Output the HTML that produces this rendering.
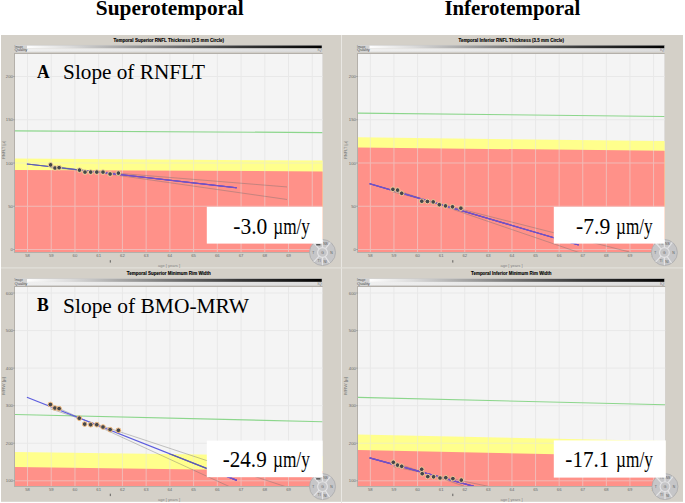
<!DOCTYPE html>
<html><head><meta charset="utf-8"><style>html,body{margin:0;padding:0;background:#fff;overflow:hidden}</style></head>
<body>
<svg width="685" height="503" viewBox="0 0 685 503" style="display:block">
<defs>
<linearGradient id="qg" x1="0" x2="1" y1="0" y2="0"><stop offset="0" stop-color="#ffffff"/><stop offset="0.04" stop-color="#ffffff"/><stop offset="0.18" stop-color="#dcdcdc"/><stop offset="0.34" stop-color="#a8a8a8"/><stop offset="0.54" stop-color="#6c6c6c"/><stop offset="0.73" stop-color="#383838"/><stop offset="0.93" stop-color="#101010"/><stop offset="1" stop-color="#000000"/></linearGradient>
<linearGradient id="qg2" x1="0" x2="1" y1="0" y2="0"><stop offset="0" stop-color="#f0f0f0"/><stop offset="1" stop-color="#dcdcdc"/></linearGradient>
</defs>
<rect width="685" height="503" fill="#fff"/>
<text x="169.75" y="14.6" font-family="Liberation Serif" font-size="21.8" font-weight="bold" fill="#000" text-anchor="middle" textLength="147.8" lengthAdjust="spacingAndGlyphs" >Superotemporal</text>
<text x="512.35" y="14.6" font-family="Liberation Serif" font-size="21.8" font-weight="bold" fill="#000" text-anchor="middle" textLength="135.9" lengthAdjust="spacingAndGlyphs" >Inferotemporal</text>
<rect x="1" y="35" width="682" height="466.8" fill="#d4d0c8"/>
<line x1="341.5" y1="35" x2="341.5" y2="503" stroke="#e9e7e3" stroke-width="1" />
<line x1="1" y1="267.8" x2="683" y2="267.8" stroke="#e2e0da" stroke-width="1.2" />
<g><clipPath id="clipTL"><rect x="15" y="54" width="307.6" height="198"/></clipPath>
<text x="168.8" y="41.6" font-family="Liberation Sans" font-size="5" font-weight="bold" fill="#000" text-anchor="middle" textLength="110.5" lengthAdjust="spacingAndGlyphs" stroke="#000" stroke-width="0.12">Temporal Superior RNFL Thickness (3.5 mm Circle)</text>
<rect x="14.5" y="45.2" width="307.5" height="3.2" fill="url(#qg)"/>
<rect x="14.5" y="48.4" width="307.5" height="3.6" fill="url(#qg2)"/>
<rect x="14.5" y="45.2" width="307.5" height="6.8" fill="none" stroke="#c8c8c8" stroke-width="0.5"/>
<rect x="14.5" y="45.2" width="12.5" height="6.8" fill="#d2d2d2"/>
<text x="14.6" y="47.9" font-family="Liberation Sans" font-size="3.8" font-weight="normal" fill="#505050" text-anchor="start" textLength="8.2" lengthAdjust="spacingAndGlyphs" >Image</text>
<text x="14.6" y="51.4" font-family="Liberation Sans" font-size="3.8" font-weight="normal" fill="#505050" text-anchor="start" textLength="12.8" lengthAdjust="spacingAndGlyphs" >Quality</text>
<text x="321.6" y="51.3" font-family="Liberation Sans" font-size="3.6" font-weight="normal" fill="#707070" text-anchor="end" textLength="4.2" lengthAdjust="spacingAndGlyphs" >IQ</text>
<rect x="14" y="53" width="308.6" height="200" fill="#b4b0aa"/>
<rect x="15" y="54" width="307.6" height="198" fill="#f4f4f4"/>
<line x1="27.5" y1="54" x2="27.5" y2="252" stroke="#e8e8e8" stroke-width="1" />
<line x1="51.23" y1="54" x2="51.23" y2="252" stroke="#e8e8e8" stroke-width="1" />
<line x1="74.96" y1="54" x2="74.96" y2="252" stroke="#e8e8e8" stroke-width="1" />
<line x1="98.69" y1="54" x2="98.69" y2="252" stroke="#e8e8e8" stroke-width="1" />
<line x1="122.42" y1="54" x2="122.42" y2="252" stroke="#e8e8e8" stroke-width="1" />
<line x1="146.15" y1="54" x2="146.15" y2="252" stroke="#e8e8e8" stroke-width="1" />
<line x1="169.88" y1="54" x2="169.88" y2="252" stroke="#e8e8e8" stroke-width="1" />
<line x1="193.61" y1="54" x2="193.61" y2="252" stroke="#e8e8e8" stroke-width="1" />
<line x1="217.34" y1="54" x2="217.34" y2="252" stroke="#e8e8e8" stroke-width="1" />
<line x1="241.07" y1="54" x2="241.07" y2="252" stroke="#e8e8e8" stroke-width="1" />
<line x1="264.8" y1="54" x2="264.8" y2="252" stroke="#e8e8e8" stroke-width="1" />
<line x1="288.53" y1="54" x2="288.53" y2="252" stroke="#e8e8e8" stroke-width="1" />
<line x1="312.26" y1="54" x2="312.26" y2="252" stroke="#e8e8e8" stroke-width="1" />
<line x1="15" y1="249.5" x2="322.6" y2="249.5" stroke="#e8e8e8" stroke-width="1" />
<line x1="15" y1="206.25" x2="322.6" y2="206.25" stroke="#e8e8e8" stroke-width="1" />
<line x1="15" y1="163" x2="322.6" y2="163" stroke="#e8e8e8" stroke-width="1" />
<line x1="15" y1="119.75" x2="322.6" y2="119.75" stroke="#e8e8e8" stroke-width="1" />
<line x1="15" y1="76.5" x2="322.6" y2="76.5" stroke="#e8e8e8" stroke-width="1" />
<polygon points="15,158.5 322.6,160.6 322.6,252 15,252" fill="#ffff8c"/>
<polygon points="15,170 322.6,171.4 322.6,252 15,252" fill="#ff9189"/>
<clipPath id="bclipTL"><polygon points="15,158.5 322.6,160.6 322.6,252 15,252"/></clipPath>
<clipPath id="rclipTL"><polygon points="15,170 322.6,171.4 322.6,252 15,252"/></clipPath>
<g clip-path="url(#bclipTL)" opacity="0.5"><line x1="27.5" y1="54" x2="27.5" y2="252" stroke="#e4e4e4" stroke-width="1" /><line x1="51.23" y1="54" x2="51.23" y2="252" stroke="#e4e4e4" stroke-width="1" /><line x1="74.96" y1="54" x2="74.96" y2="252" stroke="#e4e4e4" stroke-width="1" /><line x1="98.69" y1="54" x2="98.69" y2="252" stroke="#e4e4e4" stroke-width="1" /><line x1="122.42" y1="54" x2="122.42" y2="252" stroke="#e4e4e4" stroke-width="1" /><line x1="146.15" y1="54" x2="146.15" y2="252" stroke="#e4e4e4" stroke-width="1" /><line x1="169.88" y1="54" x2="169.88" y2="252" stroke="#e4e4e4" stroke-width="1" /><line x1="193.61" y1="54" x2="193.61" y2="252" stroke="#e4e4e4" stroke-width="1" /><line x1="217.34" y1="54" x2="217.34" y2="252" stroke="#e4e4e4" stroke-width="1" /><line x1="241.07" y1="54" x2="241.07" y2="252" stroke="#e4e4e4" stroke-width="1" /><line x1="264.8" y1="54" x2="264.8" y2="252" stroke="#e4e4e4" stroke-width="1" /><line x1="288.53" y1="54" x2="288.53" y2="252" stroke="#e4e4e4" stroke-width="1" /><line x1="312.26" y1="54" x2="312.26" y2="252" stroke="#e4e4e4" stroke-width="1" /><line x1="15" y1="249.5" x2="322.6" y2="249.5" stroke="#e4e4e4" stroke-width="1" /><line x1="15" y1="206.25" x2="322.6" y2="206.25" stroke="#e4e4e4" stroke-width="1" /><line x1="15" y1="163" x2="322.6" y2="163" stroke="#e4e4e4" stroke-width="1" /><line x1="15" y1="119.75" x2="322.6" y2="119.75" stroke="#e4e4e4" stroke-width="1" /><line x1="15" y1="76.5" x2="322.6" y2="76.5" stroke="#e4e4e4" stroke-width="1" /></g>
<line x1="13" y1="249.5" x2="15" y2="249.5" stroke="#909090" stroke-width="0.6" />
<text x="12.8" y="251" font-family="Liberation Sans" font-size="4.2" font-weight="normal" fill="#6a6a6a" text-anchor="end" >0</text>
<line x1="13" y1="206.25" x2="15" y2="206.25" stroke="#909090" stroke-width="0.6" />
<text x="12.8" y="207.75" font-family="Liberation Sans" font-size="4.2" font-weight="normal" fill="#6a6a6a" text-anchor="end" >50</text>
<line x1="13" y1="163" x2="15" y2="163" stroke="#909090" stroke-width="0.6" />
<text x="12.8" y="164.5" font-family="Liberation Sans" font-size="4.2" font-weight="normal" fill="#6a6a6a" text-anchor="end" >100</text>
<line x1="13" y1="119.75" x2="15" y2="119.75" stroke="#909090" stroke-width="0.6" />
<text x="12.8" y="121.25" font-family="Liberation Sans" font-size="4.2" font-weight="normal" fill="#6a6a6a" text-anchor="end" >150</text>
<line x1="13" y1="76.5" x2="15" y2="76.5" stroke="#909090" stroke-width="0.6" />
<text x="12.8" y="78" font-family="Liberation Sans" font-size="4.2" font-weight="normal" fill="#6a6a6a" text-anchor="end" >200</text>
<text x="27.5" y="257.4" font-family="Liberation Sans" font-size="4.2" font-weight="normal" fill="#6a6a6a" text-anchor="middle" >58</text>
<text x="51.23" y="257.4" font-family="Liberation Sans" font-size="4.2" font-weight="normal" fill="#6a6a6a" text-anchor="middle" >59</text>
<text x="74.96" y="257.4" font-family="Liberation Sans" font-size="4.2" font-weight="normal" fill="#6a6a6a" text-anchor="middle" >60</text>
<text x="98.69" y="257.4" font-family="Liberation Sans" font-size="4.2" font-weight="normal" fill="#6a6a6a" text-anchor="middle" >61</text>
<text x="122.42" y="257.4" font-family="Liberation Sans" font-size="4.2" font-weight="normal" fill="#6a6a6a" text-anchor="middle" >62</text>
<text x="146.15" y="257.4" font-family="Liberation Sans" font-size="4.2" font-weight="normal" fill="#6a6a6a" text-anchor="middle" >63</text>
<text x="169.88" y="257.4" font-family="Liberation Sans" font-size="4.2" font-weight="normal" fill="#6a6a6a" text-anchor="middle" >64</text>
<text x="193.61" y="257.4" font-family="Liberation Sans" font-size="4.2" font-weight="normal" fill="#6a6a6a" text-anchor="middle" >65</text>
<text x="217.34" y="257.4" font-family="Liberation Sans" font-size="4.2" font-weight="normal" fill="#6a6a6a" text-anchor="middle" >66</text>
<text x="241.07" y="257.4" font-family="Liberation Sans" font-size="4.2" font-weight="normal" fill="#6a6a6a" text-anchor="middle" >67</text>
<text x="264.8" y="257.4" font-family="Liberation Sans" font-size="4.2" font-weight="normal" fill="#6a6a6a" text-anchor="middle" >68</text>
<text x="288.53" y="257.4" font-family="Liberation Sans" font-size="4.2" font-weight="normal" fill="#6a6a6a" text-anchor="middle" >69</text>
<text x="312.26" y="257.4" font-family="Liberation Sans" font-size="4.2" font-weight="normal" fill="#6a6a6a" text-anchor="middle" >70</text>
<text x="0" y="0" font-family="Liberation Sans" font-size="4.2" fill="#707070" text-anchor="middle" textLength="17.5" lengthAdjust="spacingAndGlyphs" transform="translate(4.6,150) rotate(-90)">RNFLT [µ]</text>
<text x="169" y="267.2" font-family="Liberation Sans" font-size="4" font-weight="normal" fill="#858585" text-anchor="middle" >age [ years ]</text>
<line x1="110.3" y1="260.2" x2="110.3" y2="262.6" stroke="#444" stroke-width="0.8" />
<g clip-path="url(#clipTL)"><line x1="15" y1="130.8" x2="322.6" y2="132.6" stroke="#8cd68c" stroke-width="1.15" /><line x1="50.6" y1="167.8" x2="287" y2="186.95" stroke="#707070" stroke-width="0.9" stroke-opacity="0.45"/><line x1="50.6" y1="165.68" x2="287" y2="199.48" stroke="#707070" stroke-width="0.9" stroke-opacity="0.45"/><line x1="26.9" y1="164" x2="236.7" y2="187.8" stroke="#5c5cde" stroke-width="1.2" /><g clip-path="url(#bclipTL)"><line x1="26.9" y1="164" x2="236.7" y2="187.8" stroke="#5e5ea8" stroke-width="1.15" /></g><g clip-path="url(#rclipTL)"><line x1="26.9" y1="164" x2="236.7" y2="187.8" stroke="#7a4cc8" stroke-width="1.15" /></g><circle cx="50.6" cy="164.9" r="2.35" fill="#44474c" stroke="#f3d49c" stroke-width="1.0"/><circle cx="55" cy="168" r="2.35" fill="#44474c" stroke="#f3d49c" stroke-width="1.0"/><circle cx="59.1" cy="167.7" r="2.35" fill="#44474c" stroke="#f3d49c" stroke-width="1.0"/><circle cx="79.5" cy="170.1" r="2.35" fill="#44474c" stroke="#f3d49c" stroke-width="1.0"/><circle cx="85" cy="172.1" r="2.35" fill="#44474c" stroke="#f3d49c" stroke-width="1.0"/><circle cx="90.7" cy="172.1" r="2.35" fill="#44474c" stroke="#f3d49c" stroke-width="1.0"/><circle cx="96.8" cy="172.1" r="2.35" fill="#44474c" stroke="#f3d49c" stroke-width="1.0"/><circle cx="103" cy="172.1" r="2.35" fill="#44474c" stroke="#f3d49c" stroke-width="1.0"/><circle cx="110.1" cy="174" r="2.35" fill="#44474c" stroke="#f3d49c" stroke-width="1.0"/><circle cx="118.4" cy="173.1" r="2.35" fill="#44474c" stroke="#f3d49c" stroke-width="1.0"/></g>
<circle cx="322.5" cy="252.5" r="13" fill="#c6c6c8" stroke="#a6a6a8" stroke-width="0.7"/>
<line x1="325.52" y1="248.64" x2="330.32" y2="242.49" stroke="#e4e4e6" stroke-width="1.2" />
<line x1="319.16" y1="248.92" x2="313.84" y2="243.21" stroke="#e4e4e6" stroke-width="1.2" />
<line x1="325.24" y1="256.56" x2="329.6" y2="263.03" stroke="#e4e4e6" stroke-width="1.2" />
<line x1="319.16" y1="256.08" x2="313.84" y2="261.79" stroke="#e4e4e6" stroke-width="1.2" />
<line x1="322.5" y1="247.6" x2="322.5" y2="239.8" stroke="#e4e4e6" stroke-width="1.2" />
<line x1="322.5" y1="257.4" x2="322.5" y2="265.2" stroke="#e4e4e6" stroke-width="1.2" />
<circle cx="322.5" cy="252.5" r="4.9" fill="#c6c6c8" stroke="#e4e4e6" stroke-width="1.1"/>
<rect x="316.2" y="244.1" width="4.2" height="1.3" fill="#4a4a4a"/>
<text x="322.5" y="253.7" font-family="Liberation Sans" font-size="3.4" font-weight="normal" fill="#5a5a5a" text-anchor="middle" >G</text>
<text x="313.3" y="253.7" font-family="Liberation Sans" font-size="3.4" font-weight="normal" fill="#5a5a5a" text-anchor="middle" >T</text>
<text x="331.5" y="253.7" font-family="Liberation Sans" font-size="3.4" font-weight="normal" fill="#5a5a5a" text-anchor="middle" >N</text>
<text x="325.5" y="244.9" font-family="Liberation Sans" font-size="3.4" font-weight="normal" fill="#5a5a5a" text-anchor="middle" >NS</text>
<text x="325.1" y="262.5" font-family="Liberation Sans" font-size="3.4" font-weight="normal" fill="#5a5a5a" text-anchor="middle" >NI</text>
<text x="319.1" y="262.3" font-family="Liberation Sans" font-size="3.4" font-weight="normal" fill="#5a5a5a" text-anchor="middle" >TI</text>
<rect x="206.8" y="206.8" width="115.8" height="36.8" fill="#fff"/>
<text x="233.25" y="233.6" font-family="Liberation Serif" font-size="22.6" font-weight="normal" fill="#000" text-anchor="start" textLength="34.07" lengthAdjust="spacingAndGlyphs" >-3.0</text>
<text x="273.28" y="233.6" font-family="Liberation Serif" font-size="22.6" font-weight="normal" fill="#000" text-anchor="start" textLength="36.63" lengthAdjust="spacingAndGlyphs" >µm/y</text>
<text x="37" y="78.3" font-family="Liberation Serif" font-size="18.5" font-weight="bold" fill="#000" text-anchor="start" textLength="12.6" lengthAdjust="spacingAndGlyphs" >A</text>
<text x="63.1" y="79" font-family="Liberation Serif" font-size="21.5" font-weight="normal" fill="#000" text-anchor="start" textLength="141.9" lengthAdjust="spacingAndGlyphs" >Slope of RNFLT</text></g>
<g><clipPath id="clipTR"><rect x="358" y="54" width="306.6" height="198"/></clipPath>
<text x="511.3" y="41.6" font-family="Liberation Sans" font-size="5" font-weight="bold" fill="#000" text-anchor="middle" textLength="105.5" lengthAdjust="spacingAndGlyphs" stroke="#000" stroke-width="0.12">Temporal Inferior RNFL Thickness (3.5 mm Circle)</text>
<rect x="357" y="45.2" width="307.5" height="3.2" fill="url(#qg)"/>
<rect x="357" y="48.4" width="307.5" height="3.6" fill="url(#qg2)"/>
<rect x="357" y="45.2" width="307.5" height="6.8" fill="none" stroke="#c8c8c8" stroke-width="0.5"/>
<rect x="357" y="45.2" width="12.5" height="6.8" fill="#d2d2d2"/>
<text x="357.1" y="47.9" font-family="Liberation Sans" font-size="3.8" font-weight="normal" fill="#505050" text-anchor="start" textLength="8.2" lengthAdjust="spacingAndGlyphs" >Image</text>
<text x="357.1" y="51.4" font-family="Liberation Sans" font-size="3.8" font-weight="normal" fill="#505050" text-anchor="start" textLength="12.8" lengthAdjust="spacingAndGlyphs" >Quality</text>
<text x="664.1" y="51.3" font-family="Liberation Sans" font-size="3.6" font-weight="normal" fill="#707070" text-anchor="end" textLength="4.2" lengthAdjust="spacingAndGlyphs" >IQ</text>
<rect x="357" y="53" width="307.6" height="200" fill="#b4b0aa"/>
<rect x="358" y="54" width="306.6" height="198" fill="#f4f4f4"/>
<line x1="370.35" y1="54" x2="370.35" y2="252" stroke="#e8e8e8" stroke-width="1" />
<line x1="393.95" y1="54" x2="393.95" y2="252" stroke="#e8e8e8" stroke-width="1" />
<line x1="417.55" y1="54" x2="417.55" y2="252" stroke="#e8e8e8" stroke-width="1" />
<line x1="441.15" y1="54" x2="441.15" y2="252" stroke="#e8e8e8" stroke-width="1" />
<line x1="464.75" y1="54" x2="464.75" y2="252" stroke="#e8e8e8" stroke-width="1" />
<line x1="488.35" y1="54" x2="488.35" y2="252" stroke="#e8e8e8" stroke-width="1" />
<line x1="511.95" y1="54" x2="511.95" y2="252" stroke="#e8e8e8" stroke-width="1" />
<line x1="535.55" y1="54" x2="535.55" y2="252" stroke="#e8e8e8" stroke-width="1" />
<line x1="559.15" y1="54" x2="559.15" y2="252" stroke="#e8e8e8" stroke-width="1" />
<line x1="582.75" y1="54" x2="582.75" y2="252" stroke="#e8e8e8" stroke-width="1" />
<line x1="606.35" y1="54" x2="606.35" y2="252" stroke="#e8e8e8" stroke-width="1" />
<line x1="629.95" y1="54" x2="629.95" y2="252" stroke="#e8e8e8" stroke-width="1" />
<line x1="653.55" y1="54" x2="653.55" y2="252" stroke="#e8e8e8" stroke-width="1" />
<line x1="358" y1="249.5" x2="664.6" y2="249.5" stroke="#e8e8e8" stroke-width="1" />
<line x1="358" y1="206.25" x2="664.6" y2="206.25" stroke="#e8e8e8" stroke-width="1" />
<line x1="358" y1="163" x2="664.6" y2="163" stroke="#e8e8e8" stroke-width="1" />
<line x1="358" y1="119.75" x2="664.6" y2="119.75" stroke="#e8e8e8" stroke-width="1" />
<line x1="358" y1="76.5" x2="664.6" y2="76.5" stroke="#e8e8e8" stroke-width="1" />
<polygon points="358,137.35 664.6,141 664.6,252 358,252" fill="#ffff8c"/>
<polygon points="358,147.5 664.6,150.8 664.6,252 358,252" fill="#ff9189"/>
<clipPath id="bclipTR"><polygon points="358,137.35 664.6,141 664.6,252 358,252"/></clipPath>
<clipPath id="rclipTR"><polygon points="358,147.5 664.6,150.8 664.6,252 358,252"/></clipPath>
<g clip-path="url(#bclipTR)" opacity="0.5"><line x1="370.35" y1="54" x2="370.35" y2="252" stroke="#e4e4e4" stroke-width="1" /><line x1="393.95" y1="54" x2="393.95" y2="252" stroke="#e4e4e4" stroke-width="1" /><line x1="417.55" y1="54" x2="417.55" y2="252" stroke="#e4e4e4" stroke-width="1" /><line x1="441.15" y1="54" x2="441.15" y2="252" stroke="#e4e4e4" stroke-width="1" /><line x1="464.75" y1="54" x2="464.75" y2="252" stroke="#e4e4e4" stroke-width="1" /><line x1="488.35" y1="54" x2="488.35" y2="252" stroke="#e4e4e4" stroke-width="1" /><line x1="511.95" y1="54" x2="511.95" y2="252" stroke="#e4e4e4" stroke-width="1" /><line x1="535.55" y1="54" x2="535.55" y2="252" stroke="#e4e4e4" stroke-width="1" /><line x1="559.15" y1="54" x2="559.15" y2="252" stroke="#e4e4e4" stroke-width="1" /><line x1="582.75" y1="54" x2="582.75" y2="252" stroke="#e4e4e4" stroke-width="1" /><line x1="606.35" y1="54" x2="606.35" y2="252" stroke="#e4e4e4" stroke-width="1" /><line x1="629.95" y1="54" x2="629.95" y2="252" stroke="#e4e4e4" stroke-width="1" /><line x1="653.55" y1="54" x2="653.55" y2="252" stroke="#e4e4e4" stroke-width="1" /><line x1="358" y1="249.5" x2="664.6" y2="249.5" stroke="#e4e4e4" stroke-width="1" /><line x1="358" y1="206.25" x2="664.6" y2="206.25" stroke="#e4e4e4" stroke-width="1" /><line x1="358" y1="163" x2="664.6" y2="163" stroke="#e4e4e4" stroke-width="1" /><line x1="358" y1="119.75" x2="664.6" y2="119.75" stroke="#e4e4e4" stroke-width="1" /><line x1="358" y1="76.5" x2="664.6" y2="76.5" stroke="#e4e4e4" stroke-width="1" /></g>
<line x1="356" y1="249.5" x2="358" y2="249.5" stroke="#909090" stroke-width="0.6" />
<text x="355.8" y="251" font-family="Liberation Sans" font-size="4.2" font-weight="normal" fill="#6a6a6a" text-anchor="end" >0</text>
<line x1="356" y1="206.25" x2="358" y2="206.25" stroke="#909090" stroke-width="0.6" />
<text x="355.8" y="207.75" font-family="Liberation Sans" font-size="4.2" font-weight="normal" fill="#6a6a6a" text-anchor="end" >50</text>
<line x1="356" y1="163" x2="358" y2="163" stroke="#909090" stroke-width="0.6" />
<text x="355.8" y="164.5" font-family="Liberation Sans" font-size="4.2" font-weight="normal" fill="#6a6a6a" text-anchor="end" >100</text>
<line x1="356" y1="119.75" x2="358" y2="119.75" stroke="#909090" stroke-width="0.6" />
<text x="355.8" y="121.25" font-family="Liberation Sans" font-size="4.2" font-weight="normal" fill="#6a6a6a" text-anchor="end" >150</text>
<line x1="356" y1="76.5" x2="358" y2="76.5" stroke="#909090" stroke-width="0.6" />
<text x="355.8" y="78" font-family="Liberation Sans" font-size="4.2" font-weight="normal" fill="#6a6a6a" text-anchor="end" >200</text>
<text x="370.35" y="257.4" font-family="Liberation Sans" font-size="4.2" font-weight="normal" fill="#6a6a6a" text-anchor="middle" >58</text>
<text x="393.95" y="257.4" font-family="Liberation Sans" font-size="4.2" font-weight="normal" fill="#6a6a6a" text-anchor="middle" >59</text>
<text x="417.55" y="257.4" font-family="Liberation Sans" font-size="4.2" font-weight="normal" fill="#6a6a6a" text-anchor="middle" >60</text>
<text x="441.15" y="257.4" font-family="Liberation Sans" font-size="4.2" font-weight="normal" fill="#6a6a6a" text-anchor="middle" >61</text>
<text x="464.75" y="257.4" font-family="Liberation Sans" font-size="4.2" font-weight="normal" fill="#6a6a6a" text-anchor="middle" >62</text>
<text x="488.35" y="257.4" font-family="Liberation Sans" font-size="4.2" font-weight="normal" fill="#6a6a6a" text-anchor="middle" >63</text>
<text x="511.95" y="257.4" font-family="Liberation Sans" font-size="4.2" font-weight="normal" fill="#6a6a6a" text-anchor="middle" >64</text>
<text x="535.55" y="257.4" font-family="Liberation Sans" font-size="4.2" font-weight="normal" fill="#6a6a6a" text-anchor="middle" >65</text>
<text x="559.15" y="257.4" font-family="Liberation Sans" font-size="4.2" font-weight="normal" fill="#6a6a6a" text-anchor="middle" >66</text>
<text x="582.75" y="257.4" font-family="Liberation Sans" font-size="4.2" font-weight="normal" fill="#6a6a6a" text-anchor="middle" >67</text>
<text x="606.35" y="257.4" font-family="Liberation Sans" font-size="4.2" font-weight="normal" fill="#6a6a6a" text-anchor="middle" >68</text>
<text x="629.95" y="257.4" font-family="Liberation Sans" font-size="4.2" font-weight="normal" fill="#6a6a6a" text-anchor="middle" >69</text>
<text x="653.55" y="257.4" font-family="Liberation Sans" font-size="4.2" font-weight="normal" fill="#6a6a6a" text-anchor="middle" >70</text>
<text x="0" y="0" font-family="Liberation Sans" font-size="4.2" fill="#707070" text-anchor="middle" textLength="17.5" lengthAdjust="spacingAndGlyphs" transform="translate(347.1,150) rotate(-90)">RNFLT [µ]</text>
<text x="511.5" y="267.2" font-family="Liberation Sans" font-size="4" font-weight="normal" fill="#858585" text-anchor="middle" >age [ years ]</text>
<line x1="452.8" y1="260.2" x2="452.8" y2="262.6" stroke="#444" stroke-width="0.8" />
<g clip-path="url(#clipTR)"><line x1="358" y1="113.1" x2="664.6" y2="116.5" stroke="#8cd68c" stroke-width="1.15" /><line x1="392.9" y1="191.88" x2="629.5" y2="251.97" stroke="#707070" stroke-width="0.9" stroke-opacity="0.45"/><line x1="392.9" y1="188.85" x2="629.5" y2="269.77" stroke="#707070" stroke-width="0.9" stroke-opacity="0.45"/><line x1="369.6" y1="183.7" x2="578.7" y2="245" stroke="#5c5cde" stroke-width="1.2" /><g clip-path="url(#bclipTR)"><line x1="369.6" y1="183.7" x2="578.7" y2="245" stroke="#5e5ea8" stroke-width="1.15" /></g><g clip-path="url(#rclipTR)"><line x1="369.6" y1="183.7" x2="578.7" y2="245" stroke="#7a4cc8" stroke-width="1.15" /></g><circle cx="392.9" cy="189.3" r="2.35" fill="#44474c" stroke="#f3c99a" stroke-width="1.0"/><circle cx="397.6" cy="190.1" r="2.35" fill="#44474c" stroke="#f3c99a" stroke-width="1.0"/><circle cx="401.7" cy="193.3" r="2.35" fill="#44474c" stroke="#f3c99a" stroke-width="1.0"/><circle cx="421.8" cy="201.2" r="2.35" fill="#44474c" stroke="#f3c99a" stroke-width="1.0"/><circle cx="427.4" cy="201.5" r="2.35" fill="#44474c" stroke="#f3c99a" stroke-width="1.0"/><circle cx="433.2" cy="201.9" r="2.35" fill="#44474c" stroke="#f3c99a" stroke-width="1.0"/><circle cx="439.3" cy="204.7" r="2.35" fill="#44474c" stroke="#f3c99a" stroke-width="1.0"/><circle cx="445.5" cy="205.9" r="2.35" fill="#44474c" stroke="#f3c99a" stroke-width="1.0"/><circle cx="452.5" cy="206.8" r="2.35" fill="#44474c" stroke="#f3c99a" stroke-width="1.0"/><circle cx="460.9" cy="208.2" r="2.35" fill="#44474c" stroke="#f3c99a" stroke-width="1.0"/></g>
<circle cx="664.4" cy="252.5" r="13" fill="#c6c6c8" stroke="#a6a6a8" stroke-width="0.7"/>
<line x1="667.42" y1="248.64" x2="672.22" y2="242.49" stroke="#e4e4e6" stroke-width="1.2" />
<line x1="661.06" y1="248.92" x2="655.74" y2="243.21" stroke="#e4e4e6" stroke-width="1.2" />
<line x1="667.14" y1="256.56" x2="671.5" y2="263.03" stroke="#e4e4e6" stroke-width="1.2" />
<line x1="661.06" y1="256.08" x2="655.74" y2="261.79" stroke="#e4e4e6" stroke-width="1.2" />
<line x1="664.4" y1="247.6" x2="664.4" y2="239.8" stroke="#e4e4e6" stroke-width="1.2" />
<line x1="664.4" y1="257.4" x2="664.4" y2="265.2" stroke="#e4e4e6" stroke-width="1.2" />
<circle cx="664.4" cy="252.5" r="4.9" fill="#c6c6c8" stroke="#e4e4e6" stroke-width="1.1"/>
<text x="661" y="245.1" font-family="Liberation Sans" font-size="3.4" font-weight="normal" fill="#777" text-anchor="middle" >TS</text>
<text x="664.4" y="253.7" font-family="Liberation Sans" font-size="3.4" font-weight="normal" fill="#5a5a5a" text-anchor="middle" >G</text>
<text x="655.2" y="253.7" font-family="Liberation Sans" font-size="3.4" font-weight="normal" fill="#5a5a5a" text-anchor="middle" >T</text>
<text x="673.4" y="253.7" font-family="Liberation Sans" font-size="3.4" font-weight="normal" fill="#5a5a5a" text-anchor="middle" >N</text>
<text x="667.4" y="244.9" font-family="Liberation Sans" font-size="3.4" font-weight="normal" fill="#5a5a5a" text-anchor="middle" >NS</text>
<text x="667" y="262.5" font-family="Liberation Sans" font-size="3.4" font-weight="normal" fill="#5a5a5a" text-anchor="middle" >NI</text>
<text x="661" y="262.3" font-family="Liberation Sans" font-size="3.4" font-weight="normal" fill="#5a5a5a" text-anchor="middle" >TI</text>
<rect x="553.8" y="206.8" width="110.8" height="36.8" fill="#fff"/>
<text x="576.04" y="233.5" font-family="Liberation Serif" font-size="22.6" font-weight="normal" fill="#000" text-anchor="start" textLength="34.18" lengthAdjust="spacingAndGlyphs" >-7.9</text>
<text x="616.09" y="233.5" font-family="Liberation Serif" font-size="22.6" font-weight="normal" fill="#000" text-anchor="start" textLength="36.53" lengthAdjust="spacingAndGlyphs" >µm/y</text></g>
<g><clipPath id="clipBL"><rect x="15" y="287" width="307.6" height="199"/></clipPath>
<text x="168.8" y="275.1" font-family="Liberation Sans" font-size="5" font-weight="bold" fill="#000" text-anchor="middle" textLength="84.1" lengthAdjust="spacingAndGlyphs" stroke="#000" stroke-width="0.12">Temporal Superior Minimum Rim Width</text>
<rect x="14.5" y="278.7" width="307.5" height="3.2" fill="url(#qg)"/>
<rect x="14.5" y="281.9" width="307.5" height="3.6" fill="url(#qg2)"/>
<rect x="14.5" y="278.7" width="307.5" height="6.8" fill="none" stroke="#c8c8c8" stroke-width="0.5"/>
<rect x="14.5" y="278.7" width="12.5" height="6.8" fill="#d2d2d2"/>
<text x="14.6" y="281.4" font-family="Liberation Sans" font-size="3.8" font-weight="normal" fill="#505050" text-anchor="start" textLength="8.2" lengthAdjust="spacingAndGlyphs" >Image</text>
<text x="14.6" y="284.9" font-family="Liberation Sans" font-size="3.8" font-weight="normal" fill="#505050" text-anchor="start" textLength="12.8" lengthAdjust="spacingAndGlyphs" >Quality</text>
<text x="321.6" y="284.8" font-family="Liberation Sans" font-size="3.6" font-weight="normal" fill="#707070" text-anchor="end" textLength="4.2" lengthAdjust="spacingAndGlyphs" >IQ</text>
<rect x="14" y="286" width="308.6" height="201" fill="#b4b0aa"/>
<rect x="15" y="287" width="307.6" height="199" fill="#f4f4f4"/>
<line x1="27.5" y1="287" x2="27.5" y2="486" stroke="#e8e8e8" stroke-width="1" />
<line x1="51.23" y1="287" x2="51.23" y2="486" stroke="#e8e8e8" stroke-width="1" />
<line x1="74.96" y1="287" x2="74.96" y2="486" stroke="#e8e8e8" stroke-width="1" />
<line x1="98.69" y1="287" x2="98.69" y2="486" stroke="#e8e8e8" stroke-width="1" />
<line x1="122.42" y1="287" x2="122.42" y2="486" stroke="#e8e8e8" stroke-width="1" />
<line x1="146.15" y1="287" x2="146.15" y2="486" stroke="#e8e8e8" stroke-width="1" />
<line x1="169.88" y1="287" x2="169.88" y2="486" stroke="#e8e8e8" stroke-width="1" />
<line x1="193.61" y1="287" x2="193.61" y2="486" stroke="#e8e8e8" stroke-width="1" />
<line x1="217.34" y1="287" x2="217.34" y2="486" stroke="#e8e8e8" stroke-width="1" />
<line x1="241.07" y1="287" x2="241.07" y2="486" stroke="#e8e8e8" stroke-width="1" />
<line x1="264.8" y1="287" x2="264.8" y2="486" stroke="#e8e8e8" stroke-width="1" />
<line x1="288.53" y1="287" x2="288.53" y2="486" stroke="#e8e8e8" stroke-width="1" />
<line x1="312.26" y1="287" x2="312.26" y2="486" stroke="#e8e8e8" stroke-width="1" />
<line x1="15" y1="480.8" x2="322.6" y2="480.8" stroke="#e8e8e8" stroke-width="1" />
<line x1="15" y1="443.24" x2="322.6" y2="443.24" stroke="#e8e8e8" stroke-width="1" />
<line x1="15" y1="405.68" x2="322.6" y2="405.68" stroke="#e8e8e8" stroke-width="1" />
<line x1="15" y1="368.12" x2="322.6" y2="368.12" stroke="#e8e8e8" stroke-width="1" />
<line x1="15" y1="330.56" x2="322.6" y2="330.56" stroke="#e8e8e8" stroke-width="1" />
<line x1="15" y1="293" x2="322.6" y2="293" stroke="#e8e8e8" stroke-width="1" />
<polygon points="15,452 322.6,456.3 322.6,486 15,486" fill="#ffff8c"/>
<polygon points="15,467 322.6,471 322.6,486 15,486" fill="#ff9189"/>
<clipPath id="bclipBL"><polygon points="15,452 322.6,456.3 322.6,486 15,486"/></clipPath>
<clipPath id="rclipBL"><polygon points="15,467 322.6,471 322.6,486 15,486"/></clipPath>
<g clip-path="url(#bclipBL)" opacity="0.5"><line x1="27.5" y1="287" x2="27.5" y2="486" stroke="#e4e4e4" stroke-width="1" /><line x1="51.23" y1="287" x2="51.23" y2="486" stroke="#e4e4e4" stroke-width="1" /><line x1="74.96" y1="287" x2="74.96" y2="486" stroke="#e4e4e4" stroke-width="1" /><line x1="98.69" y1="287" x2="98.69" y2="486" stroke="#e4e4e4" stroke-width="1" /><line x1="122.42" y1="287" x2="122.42" y2="486" stroke="#e4e4e4" stroke-width="1" /><line x1="146.15" y1="287" x2="146.15" y2="486" stroke="#e4e4e4" stroke-width="1" /><line x1="169.88" y1="287" x2="169.88" y2="486" stroke="#e4e4e4" stroke-width="1" /><line x1="193.61" y1="287" x2="193.61" y2="486" stroke="#e4e4e4" stroke-width="1" /><line x1="217.34" y1="287" x2="217.34" y2="486" stroke="#e4e4e4" stroke-width="1" /><line x1="241.07" y1="287" x2="241.07" y2="486" stroke="#e4e4e4" stroke-width="1" /><line x1="264.8" y1="287" x2="264.8" y2="486" stroke="#e4e4e4" stroke-width="1" /><line x1="288.53" y1="287" x2="288.53" y2="486" stroke="#e4e4e4" stroke-width="1" /><line x1="312.26" y1="287" x2="312.26" y2="486" stroke="#e4e4e4" stroke-width="1" /><line x1="15" y1="480.8" x2="322.6" y2="480.8" stroke="#e4e4e4" stroke-width="1" /><line x1="15" y1="443.24" x2="322.6" y2="443.24" stroke="#e4e4e4" stroke-width="1" /><line x1="15" y1="405.68" x2="322.6" y2="405.68" stroke="#e4e4e4" stroke-width="1" /><line x1="15" y1="368.12" x2="322.6" y2="368.12" stroke="#e4e4e4" stroke-width="1" /><line x1="15" y1="330.56" x2="322.6" y2="330.56" stroke="#e4e4e4" stroke-width="1" /><line x1="15" y1="293" x2="322.6" y2="293" stroke="#e4e4e4" stroke-width="1" /></g>
<line x1="13" y1="480.8" x2="15" y2="480.8" stroke="#909090" stroke-width="0.6" />
<text x="12.8" y="482.3" font-family="Liberation Sans" font-size="4.2" font-weight="normal" fill="#6a6a6a" text-anchor="end" >100</text>
<line x1="13" y1="443.24" x2="15" y2="443.24" stroke="#909090" stroke-width="0.6" />
<text x="12.8" y="444.74" font-family="Liberation Sans" font-size="4.2" font-weight="normal" fill="#6a6a6a" text-anchor="end" >200</text>
<line x1="13" y1="405.68" x2="15" y2="405.68" stroke="#909090" stroke-width="0.6" />
<text x="12.8" y="407.18" font-family="Liberation Sans" font-size="4.2" font-weight="normal" fill="#6a6a6a" text-anchor="end" >300</text>
<line x1="13" y1="368.12" x2="15" y2="368.12" stroke="#909090" stroke-width="0.6" />
<text x="12.8" y="369.62" font-family="Liberation Sans" font-size="4.2" font-weight="normal" fill="#6a6a6a" text-anchor="end" >400</text>
<line x1="13" y1="330.56" x2="15" y2="330.56" stroke="#909090" stroke-width="0.6" />
<text x="12.8" y="332.06" font-family="Liberation Sans" font-size="4.2" font-weight="normal" fill="#6a6a6a" text-anchor="end" >500</text>
<line x1="13" y1="293" x2="15" y2="293" stroke="#909090" stroke-width="0.6" />
<text x="12.8" y="294.5" font-family="Liberation Sans" font-size="4.2" font-weight="normal" fill="#6a6a6a" text-anchor="end" >600</text>
<text x="27.5" y="491.4" font-family="Liberation Sans" font-size="4.2" font-weight="normal" fill="#6a6a6a" text-anchor="middle" >58</text>
<text x="51.23" y="491.4" font-family="Liberation Sans" font-size="4.2" font-weight="normal" fill="#6a6a6a" text-anchor="middle" >59</text>
<text x="74.96" y="491.4" font-family="Liberation Sans" font-size="4.2" font-weight="normal" fill="#6a6a6a" text-anchor="middle" >60</text>
<text x="98.69" y="491.4" font-family="Liberation Sans" font-size="4.2" font-weight="normal" fill="#6a6a6a" text-anchor="middle" >61</text>
<text x="122.42" y="491.4" font-family="Liberation Sans" font-size="4.2" font-weight="normal" fill="#6a6a6a" text-anchor="middle" >62</text>
<text x="146.15" y="491.4" font-family="Liberation Sans" font-size="4.2" font-weight="normal" fill="#6a6a6a" text-anchor="middle" >63</text>
<text x="169.88" y="491.4" font-family="Liberation Sans" font-size="4.2" font-weight="normal" fill="#6a6a6a" text-anchor="middle" >64</text>
<text x="193.61" y="491.4" font-family="Liberation Sans" font-size="4.2" font-weight="normal" fill="#6a6a6a" text-anchor="middle" >65</text>
<text x="217.34" y="491.4" font-family="Liberation Sans" font-size="4.2" font-weight="normal" fill="#6a6a6a" text-anchor="middle" >66</text>
<text x="241.07" y="491.4" font-family="Liberation Sans" font-size="4.2" font-weight="normal" fill="#6a6a6a" text-anchor="middle" >67</text>
<text x="264.8" y="491.4" font-family="Liberation Sans" font-size="4.2" font-weight="normal" fill="#6a6a6a" text-anchor="middle" >68</text>
<text x="288.53" y="491.4" font-family="Liberation Sans" font-size="4.2" font-weight="normal" fill="#6a6a6a" text-anchor="middle" >69</text>
<text x="312.26" y="491.4" font-family="Liberation Sans" font-size="4.2" font-weight="normal" fill="#6a6a6a" text-anchor="middle" >70</text>
<text x="0" y="0" font-family="Liberation Sans" font-size="4.2" fill="#707070" text-anchor="middle" textLength="17.5" lengthAdjust="spacingAndGlyphs" transform="translate(4.6,386) rotate(-90)">MRW [µ]</text>
<text x="169" y="500.7" font-family="Liberation Sans" font-size="4" font-weight="normal" fill="#858585" text-anchor="middle" >age [ years ]</text>
<line x1="110.3" y1="493.7" x2="110.3" y2="496.1" stroke="#444" stroke-width="0.8" />
<g clip-path="url(#clipBL)"><line x1="15" y1="414.5" x2="322.6" y2="421.7" stroke="#8cd68c" stroke-width="1.15" /><line x1="50.4" y1="408.82" x2="287" y2="487.14" stroke="#707070" stroke-width="0.9" stroke-opacity="0.45"/><line x1="50.4" y1="404.43" x2="287" y2="513.03" stroke="#707070" stroke-width="0.9" stroke-opacity="0.45"/><line x1="26.9" y1="397.3" x2="236.9" y2="480.4" stroke="#5c5cde" stroke-width="1.2" /><g clip-path="url(#bclipBL)"><line x1="26.9" y1="397.3" x2="236.9" y2="480.4" stroke="#5e5ea8" stroke-width="1.15" /></g><g clip-path="url(#rclipBL)"><line x1="26.9" y1="397.3" x2="236.9" y2="480.4" stroke="#7a4cc8" stroke-width="1.15" /></g><circle cx="50.4" cy="404.5" r="2.35" fill="#44474c" stroke="#f5be84" stroke-width="1.0"/><circle cx="54.9" cy="408" r="2.35" fill="#44474c" stroke="#f5be84" stroke-width="1.0"/><circle cx="59.1" cy="408.6" r="2.35" fill="#44474c" stroke="#f5be84" stroke-width="1.0"/><circle cx="79.3" cy="418.2" r="2.35" fill="#44474c" stroke="#f5be84" stroke-width="1.0"/><circle cx="84.7" cy="424.1" r="2.35" fill="#44474c" stroke="#f5be84" stroke-width="1.0"/><circle cx="90.7" cy="424.7" r="2.35" fill="#44474c" stroke="#f5be84" stroke-width="1.0"/><circle cx="96.8" cy="424.7" r="2.35" fill="#44474c" stroke="#f5be84" stroke-width="1.0"/><circle cx="103" cy="427" r="2.35" fill="#44474c" stroke="#f5be84" stroke-width="1.0"/><circle cx="110.1" cy="429.6" r="2.35" fill="#44474c" stroke="#f5be84" stroke-width="1.0"/><circle cx="118.4" cy="430.3" r="2.35" fill="#44474c" stroke="#f5be84" stroke-width="1.0"/></g>
<circle cx="322.5" cy="486.6" r="13" fill="#c6c6c8" stroke="#a6a6a8" stroke-width="0.7"/>
<line x1="325.52" y1="482.74" x2="330.32" y2="476.59" stroke="#e4e4e6" stroke-width="1.2" />
<line x1="319.16" y1="483.02" x2="313.84" y2="477.31" stroke="#e4e4e6" stroke-width="1.2" />
<line x1="325.24" y1="490.66" x2="329.6" y2="497.13" stroke="#e4e4e6" stroke-width="1.2" />
<line x1="319.16" y1="490.18" x2="313.84" y2="495.89" stroke="#e4e4e6" stroke-width="1.2" />
<line x1="322.5" y1="481.7" x2="322.5" y2="473.9" stroke="#e4e4e6" stroke-width="1.2" />
<line x1="322.5" y1="491.5" x2="322.5" y2="499.3" stroke="#e4e4e6" stroke-width="1.2" />
<circle cx="322.5" cy="486.6" r="4.9" fill="#c6c6c8" stroke="#e4e4e6" stroke-width="1.1"/>
<rect x="316.2" y="478.2" width="4.2" height="1.3" fill="#4a4a4a"/>
<text x="322.5" y="487.8" font-family="Liberation Sans" font-size="3.4" font-weight="normal" fill="#5a5a5a" text-anchor="middle" >G</text>
<text x="313.3" y="487.8" font-family="Liberation Sans" font-size="3.4" font-weight="normal" fill="#5a5a5a" text-anchor="middle" >T</text>
<text x="331.5" y="487.8" font-family="Liberation Sans" font-size="3.4" font-weight="normal" fill="#5a5a5a" text-anchor="middle" >N</text>
<text x="325.5" y="479" font-family="Liberation Sans" font-size="3.4" font-weight="normal" fill="#5a5a5a" text-anchor="middle" >NS</text>
<text x="325.1" y="496.6" font-family="Liberation Sans" font-size="3.4" font-weight="normal" fill="#5a5a5a" text-anchor="middle" >NI</text>
<text x="319.1" y="496.4" font-family="Liberation Sans" font-size="3.4" font-weight="normal" fill="#5a5a5a" text-anchor="middle" >TI</text>
<rect x="206.8" y="440.6" width="115.8" height="36.6" fill="#fff"/>
<text x="222.76" y="466.7" font-family="Liberation Serif" font-size="22.6" font-weight="normal" fill="#000" text-anchor="start" textLength="43.94" lengthAdjust="spacingAndGlyphs" >-24.9</text>
<text x="272.98" y="466.7" font-family="Liberation Serif" font-size="22.6" font-weight="normal" fill="#000" text-anchor="start" textLength="36.84" lengthAdjust="spacingAndGlyphs" >µm/y</text>
<text x="37" y="311.4" font-family="Liberation Serif" font-size="18.5" font-weight="bold" fill="#000" text-anchor="start" textLength="11.8" lengthAdjust="spacingAndGlyphs" >B</text>
<text x="63" y="312.6" font-family="Liberation Serif" font-size="21.5" font-weight="normal" fill="#000" text-anchor="start" textLength="186" lengthAdjust="spacingAndGlyphs" >Slope of BMO-MRW</text></g>
<g><clipPath id="clipBR"><rect x="358" y="287" width="307.2" height="199"/></clipPath>
<text x="511.3" y="275.1" font-family="Liberation Sans" font-size="5" font-weight="bold" fill="#000" text-anchor="middle" textLength="80.5" lengthAdjust="spacingAndGlyphs" stroke="#000" stroke-width="0.12">Temporal Inferior Minimum Rim Width</text>
<rect x="357" y="278.7" width="307.5" height="3.2" fill="url(#qg)"/>
<rect x="357" y="281.9" width="307.5" height="3.6" fill="url(#qg2)"/>
<rect x="357" y="278.7" width="307.5" height="6.8" fill="none" stroke="#c8c8c8" stroke-width="0.5"/>
<rect x="357" y="278.7" width="12.5" height="6.8" fill="#d2d2d2"/>
<text x="357.1" y="281.4" font-family="Liberation Sans" font-size="3.8" font-weight="normal" fill="#505050" text-anchor="start" textLength="8.2" lengthAdjust="spacingAndGlyphs" >Image</text>
<text x="357.1" y="284.9" font-family="Liberation Sans" font-size="3.8" font-weight="normal" fill="#505050" text-anchor="start" textLength="12.8" lengthAdjust="spacingAndGlyphs" >Quality</text>
<text x="664.1" y="284.8" font-family="Liberation Sans" font-size="3.6" font-weight="normal" fill="#707070" text-anchor="end" textLength="4.2" lengthAdjust="spacingAndGlyphs" >IQ</text>
<rect x="357" y="286" width="308.2" height="201" fill="#b4b0aa"/>
<rect x="358" y="287" width="307.2" height="199" fill="#f4f4f4"/>
<line x1="370.35" y1="287" x2="370.35" y2="486" stroke="#e8e8e8" stroke-width="1" />
<line x1="393.95" y1="287" x2="393.95" y2="486" stroke="#e8e8e8" stroke-width="1" />
<line x1="417.55" y1="287" x2="417.55" y2="486" stroke="#e8e8e8" stroke-width="1" />
<line x1="441.15" y1="287" x2="441.15" y2="486" stroke="#e8e8e8" stroke-width="1" />
<line x1="464.75" y1="287" x2="464.75" y2="486" stroke="#e8e8e8" stroke-width="1" />
<line x1="488.35" y1="287" x2="488.35" y2="486" stroke="#e8e8e8" stroke-width="1" />
<line x1="511.95" y1="287" x2="511.95" y2="486" stroke="#e8e8e8" stroke-width="1" />
<line x1="535.55" y1="287" x2="535.55" y2="486" stroke="#e8e8e8" stroke-width="1" />
<line x1="559.15" y1="287" x2="559.15" y2="486" stroke="#e8e8e8" stroke-width="1" />
<line x1="582.75" y1="287" x2="582.75" y2="486" stroke="#e8e8e8" stroke-width="1" />
<line x1="606.35" y1="287" x2="606.35" y2="486" stroke="#e8e8e8" stroke-width="1" />
<line x1="629.95" y1="287" x2="629.95" y2="486" stroke="#e8e8e8" stroke-width="1" />
<line x1="653.55" y1="287" x2="653.55" y2="486" stroke="#e8e8e8" stroke-width="1" />
<line x1="358" y1="480.8" x2="665.2" y2="480.8" stroke="#e8e8e8" stroke-width="1" />
<line x1="358" y1="443.24" x2="665.2" y2="443.24" stroke="#e8e8e8" stroke-width="1" />
<line x1="358" y1="405.68" x2="665.2" y2="405.68" stroke="#e8e8e8" stroke-width="1" />
<line x1="358" y1="368.12" x2="665.2" y2="368.12" stroke="#e8e8e8" stroke-width="1" />
<line x1="358" y1="330.56" x2="665.2" y2="330.56" stroke="#e8e8e8" stroke-width="1" />
<line x1="358" y1="293" x2="665.2" y2="293" stroke="#e8e8e8" stroke-width="1" />
<polygon points="358,434.5 665.2,441 665.2,486 358,486" fill="#ffff8c"/>
<polygon points="358,450 665.2,456.5 665.2,486 358,486" fill="#ff9189"/>
<clipPath id="bclipBR"><polygon points="358,434.5 665.2,441 665.2,486 358,486"/></clipPath>
<clipPath id="rclipBR"><polygon points="358,450 665.2,456.5 665.2,486 358,486"/></clipPath>
<g clip-path="url(#bclipBR)" opacity="0.5"><line x1="370.35" y1="287" x2="370.35" y2="486" stroke="#e4e4e4" stroke-width="1" /><line x1="393.95" y1="287" x2="393.95" y2="486" stroke="#e4e4e4" stroke-width="1" /><line x1="417.55" y1="287" x2="417.55" y2="486" stroke="#e4e4e4" stroke-width="1" /><line x1="441.15" y1="287" x2="441.15" y2="486" stroke="#e4e4e4" stroke-width="1" /><line x1="464.75" y1="287" x2="464.75" y2="486" stroke="#e4e4e4" stroke-width="1" /><line x1="488.35" y1="287" x2="488.35" y2="486" stroke="#e4e4e4" stroke-width="1" /><line x1="511.95" y1="287" x2="511.95" y2="486" stroke="#e4e4e4" stroke-width="1" /><line x1="535.55" y1="287" x2="535.55" y2="486" stroke="#e4e4e4" stroke-width="1" /><line x1="559.15" y1="287" x2="559.15" y2="486" stroke="#e4e4e4" stroke-width="1" /><line x1="582.75" y1="287" x2="582.75" y2="486" stroke="#e4e4e4" stroke-width="1" /><line x1="606.35" y1="287" x2="606.35" y2="486" stroke="#e4e4e4" stroke-width="1" /><line x1="629.95" y1="287" x2="629.95" y2="486" stroke="#e4e4e4" stroke-width="1" /><line x1="653.55" y1="287" x2="653.55" y2="486" stroke="#e4e4e4" stroke-width="1" /><line x1="358" y1="480.8" x2="665.2" y2="480.8" stroke="#e4e4e4" stroke-width="1" /><line x1="358" y1="443.24" x2="665.2" y2="443.24" stroke="#e4e4e4" stroke-width="1" /><line x1="358" y1="405.68" x2="665.2" y2="405.68" stroke="#e4e4e4" stroke-width="1" /><line x1="358" y1="368.12" x2="665.2" y2="368.12" stroke="#e4e4e4" stroke-width="1" /><line x1="358" y1="330.56" x2="665.2" y2="330.56" stroke="#e4e4e4" stroke-width="1" /><line x1="358" y1="293" x2="665.2" y2="293" stroke="#e4e4e4" stroke-width="1" /></g>
<line x1="356" y1="480.8" x2="358" y2="480.8" stroke="#909090" stroke-width="0.6" />
<text x="355.8" y="482.3" font-family="Liberation Sans" font-size="4.2" font-weight="normal" fill="#6a6a6a" text-anchor="end" >100</text>
<line x1="356" y1="443.24" x2="358" y2="443.24" stroke="#909090" stroke-width="0.6" />
<text x="355.8" y="444.74" font-family="Liberation Sans" font-size="4.2" font-weight="normal" fill="#6a6a6a" text-anchor="end" >200</text>
<line x1="356" y1="405.68" x2="358" y2="405.68" stroke="#909090" stroke-width="0.6" />
<text x="355.8" y="407.18" font-family="Liberation Sans" font-size="4.2" font-weight="normal" fill="#6a6a6a" text-anchor="end" >300</text>
<line x1="356" y1="368.12" x2="358" y2="368.12" stroke="#909090" stroke-width="0.6" />
<text x="355.8" y="369.62" font-family="Liberation Sans" font-size="4.2" font-weight="normal" fill="#6a6a6a" text-anchor="end" >400</text>
<line x1="356" y1="330.56" x2="358" y2="330.56" stroke="#909090" stroke-width="0.6" />
<text x="355.8" y="332.06" font-family="Liberation Sans" font-size="4.2" font-weight="normal" fill="#6a6a6a" text-anchor="end" >500</text>
<line x1="356" y1="293" x2="358" y2="293" stroke="#909090" stroke-width="0.6" />
<text x="355.8" y="294.5" font-family="Liberation Sans" font-size="4.2" font-weight="normal" fill="#6a6a6a" text-anchor="end" >600</text>
<text x="370.35" y="491.4" font-family="Liberation Sans" font-size="4.2" font-weight="normal" fill="#6a6a6a" text-anchor="middle" >58</text>
<text x="393.95" y="491.4" font-family="Liberation Sans" font-size="4.2" font-weight="normal" fill="#6a6a6a" text-anchor="middle" >59</text>
<text x="417.55" y="491.4" font-family="Liberation Sans" font-size="4.2" font-weight="normal" fill="#6a6a6a" text-anchor="middle" >60</text>
<text x="441.15" y="491.4" font-family="Liberation Sans" font-size="4.2" font-weight="normal" fill="#6a6a6a" text-anchor="middle" >61</text>
<text x="464.75" y="491.4" font-family="Liberation Sans" font-size="4.2" font-weight="normal" fill="#6a6a6a" text-anchor="middle" >62</text>
<text x="488.35" y="491.4" font-family="Liberation Sans" font-size="4.2" font-weight="normal" fill="#6a6a6a" text-anchor="middle" >63</text>
<text x="511.95" y="491.4" font-family="Liberation Sans" font-size="4.2" font-weight="normal" fill="#6a6a6a" text-anchor="middle" >64</text>
<text x="535.55" y="491.4" font-family="Liberation Sans" font-size="4.2" font-weight="normal" fill="#6a6a6a" text-anchor="middle" >65</text>
<text x="559.15" y="491.4" font-family="Liberation Sans" font-size="4.2" font-weight="normal" fill="#6a6a6a" text-anchor="middle" >66</text>
<text x="582.75" y="491.4" font-family="Liberation Sans" font-size="4.2" font-weight="normal" fill="#6a6a6a" text-anchor="middle" >67</text>
<text x="606.35" y="491.4" font-family="Liberation Sans" font-size="4.2" font-weight="normal" fill="#6a6a6a" text-anchor="middle" >68</text>
<text x="629.95" y="491.4" font-family="Liberation Sans" font-size="4.2" font-weight="normal" fill="#6a6a6a" text-anchor="middle" >69</text>
<text x="653.55" y="491.4" font-family="Liberation Sans" font-size="4.2" font-weight="normal" fill="#6a6a6a" text-anchor="middle" >70</text>
<text x="0" y="0" font-family="Liberation Sans" font-size="4.2" fill="#707070" text-anchor="middle" textLength="17.5" lengthAdjust="spacingAndGlyphs" transform="translate(347.1,386) rotate(-90)">MRW [µ]</text>
<text x="511.5" y="500.7" font-family="Liberation Sans" font-size="4" font-weight="normal" fill="#858585" text-anchor="middle" >age [ years ]</text>
<line x1="452.8" y1="493.7" x2="452.8" y2="496.1" stroke="#444" stroke-width="0.8" />
<g clip-path="url(#clipBR)"><line x1="358" y1="397.3" x2="665.2" y2="404.8" stroke="#8cd68c" stroke-width="1.15" /><line x1="393.3" y1="466.58" x2="629.5" y2="515.71" stroke="#707070" stroke-width="0.9" stroke-opacity="0.45"/><line x1="393.3" y1="462.12" x2="629.5" y2="542.43" stroke="#707070" stroke-width="0.9" stroke-opacity="0.45"/><line x1="369.6" y1="457.9" x2="473.9" y2="486.4" stroke="#5c5cde" stroke-width="1.2" /><g clip-path="url(#bclipBR)"><line x1="369.6" y1="457.9" x2="473.9" y2="486.4" stroke="#5e5ea8" stroke-width="1.15" /></g><g clip-path="url(#rclipBR)"><line x1="369.6" y1="457.9" x2="473.9" y2="486.4" stroke="#7a4cc8" stroke-width="1.15" /></g><circle cx="393.3" cy="462.3" r="2.35" fill="#44474c" stroke="#f3c99a" stroke-width="1.0"/><circle cx="397.5" cy="465.1" r="2.35" fill="#44474c" stroke="#f3c99a" stroke-width="1.0"/><circle cx="401.7" cy="466.3" r="2.35" fill="#44474c" stroke="#f3c99a" stroke-width="1.0"/><circle cx="421.7" cy="469.3" r="2.35" fill="#44474c" stroke="#f3c99a" stroke-width="1.0"/><circle cx="422.2" cy="473.7" r="2.35" fill="#44474c" stroke="#f3c99a" stroke-width="1.0"/><circle cx="427.8" cy="476.6" r="2.35" fill="#44474c" stroke="#f3c99a" stroke-width="1.0"/><circle cx="433.6" cy="476.8" r="2.35" fill="#44474c" stroke="#f3c99a" stroke-width="1.0"/><circle cx="440" cy="478" r="2.35" fill="#44474c" stroke="#f3c99a" stroke-width="1.0"/><circle cx="445.8" cy="477.7" r="2.35" fill="#44474c" stroke="#f3c99a" stroke-width="1.0"/><circle cx="452.9" cy="478.6" r="2.35" fill="#44474c" stroke="#f3c99a" stroke-width="1.0"/><circle cx="461.3" cy="480.1" r="2.35" fill="#44474c" stroke="#f3c99a" stroke-width="1.0"/></g>
<circle cx="665" cy="486.6" r="13" fill="#c6c6c8" stroke="#a6a6a8" stroke-width="0.7"/>
<line x1="668.02" y1="482.74" x2="672.82" y2="476.59" stroke="#e4e4e6" stroke-width="1.2" />
<line x1="661.66" y1="483.02" x2="656.34" y2="477.31" stroke="#e4e4e6" stroke-width="1.2" />
<line x1="667.74" y1="490.66" x2="672.1" y2="497.13" stroke="#e4e4e6" stroke-width="1.2" />
<line x1="661.66" y1="490.18" x2="656.34" y2="495.89" stroke="#e4e4e6" stroke-width="1.2" />
<line x1="665" y1="481.7" x2="665" y2="473.9" stroke="#e4e4e6" stroke-width="1.2" />
<line x1="665" y1="491.5" x2="665" y2="499.3" stroke="#e4e4e6" stroke-width="1.2" />
<circle cx="665" cy="486.6" r="4.9" fill="#c6c6c8" stroke="#e4e4e6" stroke-width="1.1"/>
<text x="661.6" y="479.2" font-family="Liberation Sans" font-size="3.4" font-weight="normal" fill="#777" text-anchor="middle" >TS</text>
<text x="665" y="487.8" font-family="Liberation Sans" font-size="3.4" font-weight="normal" fill="#5a5a5a" text-anchor="middle" >G</text>
<text x="655.8" y="487.8" font-family="Liberation Sans" font-size="3.4" font-weight="normal" fill="#5a5a5a" text-anchor="middle" >T</text>
<text x="674" y="487.8" font-family="Liberation Sans" font-size="3.4" font-weight="normal" fill="#5a5a5a" text-anchor="middle" >N</text>
<text x="668" y="479" font-family="Liberation Sans" font-size="3.4" font-weight="normal" fill="#5a5a5a" text-anchor="middle" >NS</text>
<text x="667.6" y="496.6" font-family="Liberation Sans" font-size="3.4" font-weight="normal" fill="#5a5a5a" text-anchor="middle" >NI</text>
<text x="661.6" y="496.4" font-family="Liberation Sans" font-size="3.4" font-weight="normal" fill="#5a5a5a" text-anchor="middle" >TI</text>
<rect x="553.8" y="440.4" width="112" height="37.2" fill="#fff"/>
<text x="565.36" y="466.7" font-family="Liberation Serif" font-size="22.6" font-weight="normal" fill="#000" text-anchor="start" textLength="44.07" lengthAdjust="spacingAndGlyphs" >-17.1</text>
<text x="616.08" y="466.7" font-family="Liberation Serif" font-size="22.6" font-weight="normal" fill="#000" text-anchor="start" textLength="36.73" lengthAdjust="spacingAndGlyphs" >µm/y</text></g>
</svg>
</body></html>
